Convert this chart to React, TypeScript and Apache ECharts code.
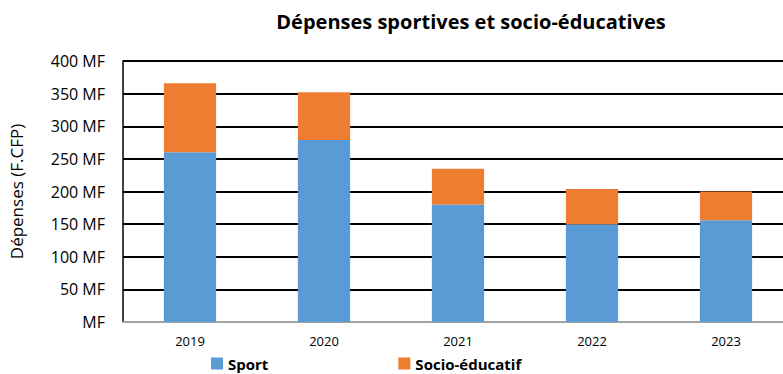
import React, { useEffect, useRef } from "react";
import * as echarts from "echarts";

const years = ["2019", "2020", "2021", "2022", "2023"];
const sport = [260, 279, 180, 150, 156];
const socio = [106, 73, 55, 54, 44];
const titleText = "Dépenses sportives et socio-éducatives";
const yName = "Dépenses (F.CFP)";

export default function App() {
  const ref = useRef<HTMLDivElement>(null);
  useEffect(() => {
    const chart = echarts.init(ref.current!, null, { renderer: "svg" });
    const font = "'Open Sans', 'Noto Sans', sans-serif";
    chart.setOption({
      animation: false,
      textStyle: { fontFamily: font },
      title: {
        text: titleText,
        left: 466,
        textAlign: "center",
        top: 6,
        textStyle: { fontFamily: font, fontWeight: "bold", fontSize: 20, color: "#000" },
      },
      legend: {
        left: 206,
        top: 351,
        itemWidth: 12,
        itemHeight: 12,
        itemGap: 130,
        icon: "rect",
        textStyle: { fontFamily: font, fontWeight: "bold", fontSize: 15, color: "#000" },
        data: ["Sport", "Socio-éducatif"],
      },
      grid: { left: 120, width: 673, top: 61, height: 261, containLabel: false },
      xAxis: {
        type: "category",
        data: years,
        axisLine: { show: true, lineStyle: { color: "#d9d9d9", width: 1.5 } },
        axisTick: { show: false },
        axisLabel: { fontFamily: font, fontSize: 13, color: "#000", margin: 12 },
      },
      yAxis: {
        type: "value",
        min: 0,
        max: 400,
        interval: 50,
        name: yName,
        nameLocation: "middle",
        nameGap: 98,
        nameTextStyle: { fontFamily: font, fontSize: 17, color: "#000" },
        axisLine: { show: true, lineStyle: { color: "#000", width: 1.5 } },
        axisTick: { show: false },
        axisLabel: {
          fontFamily: font,
          fontSize: 16,
          color: "#000",
          margin: 18,
          formatter: (v: number) => (v === 0 ? "MF" : v + " MF"),
        },
        splitLine: { lineStyle: { color: "#000", width: 2 } },
      },
      series: [
        {
          name: "Sport",
          type: "bar",
          stack: "total",
          data: sport,
          barWidth: "39%",
          itemStyle: { color: "#5B9BD5" },
        },
        {
          name: "Socio-éducatif",
          type: "bar",
          stack: "total",
          data: socio,
          barWidth: "39%",
          itemStyle: { color: "#ED7D31" },
        },
      ],
    });
    return () => chart.dispose();
  }, []);
  return (
    <div style={{ width: 783, height: 374, position: "absolute", left: 0, top: 0, overflow: "hidden" }}>
      <div ref={ref} style={{ width: 800, height: 374 }} />
    </div>
  );
}
